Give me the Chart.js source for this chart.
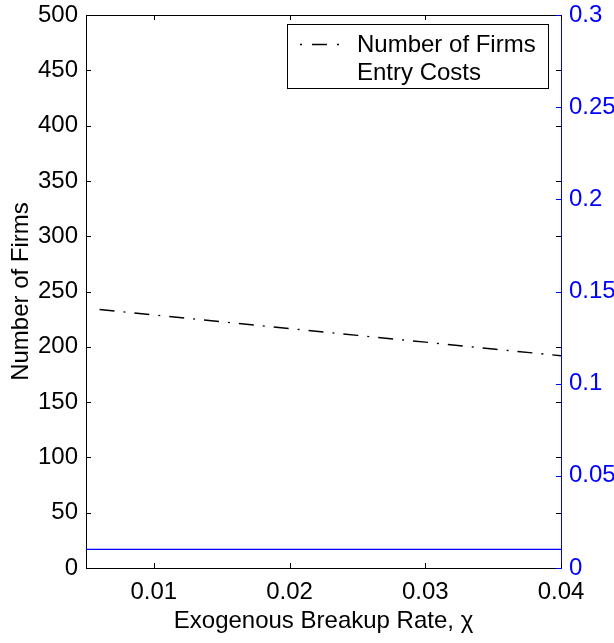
<!DOCTYPE html>
<html>
<head>
<meta charset="utf-8">
<script src="https://cdn.jsdelivr.net/npm/chart.js@4.4.0/dist/chart.umd.min.js"></script>
<style>
  html, body { margin: 0; padding: 0; background: #fff; }
</style>
</head>
<body>
<canvas id="myChart" width="614" height="643"></canvas>
<script>
// data
var chiFirms = [0.006, 0.01, 0.015, 0.02, 0.025, 0.03, 0.035, 0.04];
var numFirms = [233.7, 228.8, 222.6, 216.5, 210.3, 204.2, 198.0, 191.9];
var chiCosts = [0.005, 0.01, 0.02, 0.03, 0.04];
var entryCosts = [0.0101, 0.0101, 0.0101, 0.0101, 0.0101];

var xTicks = [0.01, 0.02, 0.03, 0.04];
var yTicks = [0, 50, 100, 150, 200, 250, 300, 350, 400, 450, 500];
var y2Ticks = [0, 0.05, 0.1, 0.15, 0.2, 0.25, 0.3];

var FONT = 'Liberation Sans, Arial, Helvetica, sans-serif';
Chart.defaults.font.family = FONT;
Chart.defaults.font.size = 24;
Chart.defaults.color = '#000';

function pairs(xs, ys) {
    return xs.map(function(x, i) { return {x: x, y: ys[i]}; });
}

// MATLAB style box, inward ticks and legend
const matlabBox = {
    id: 'matlabBox',
    afterDraw(chart) {
        const ctx = chart.ctx;
        const ca = chart.chartArea;
        const x = chart.scales.x, y = chart.scales.y, y2 = chart.scales.y2;
        ctx.save();
        ctx.lineWidth = 1;
        function seg(x1, y1, x2, y2_) {
            ctx.beginPath(); ctx.moveTo(x1, y1); ctx.lineTo(x2, y2_); ctx.stroke();
        }
        ctx.strokeStyle = '#000';
        seg(ca.left, Math.round(ca.top) + 0.5, ca.right, Math.round(ca.top) + 0.5);
        x.ticks.forEach(function(t) {
            const px = Math.round(x.getPixelForValue(t.value)) + 0.5;
            seg(px, ca.bottom, px, ca.bottom - 5);
            seg(px, ca.top, px, ca.top + 5);
        });
        y.ticks.forEach(function(t) {
            const py = Math.round(y.getPixelForValue(t.value)) + 0.5;
            seg(ca.left, py, ca.left + 5, py);
            seg(ca.right - 5, py, ca.right, py);
        });
        ctx.strokeStyle = '#0000ff';
        y2.ticks.forEach(function(t) {
            const py = Math.round(y2.getPixelForValue(t.value)) + 0.5;
            seg(ca.right - 5, py, ca.right, py);
        });

        // legend
        const lx = 287.5, ly = 24.5, lw = 261, lh = 64;
        ctx.fillStyle = '#fff';
        ctx.fillRect(lx, ly, lw, lh);
        ctx.strokeStyle = '#000';
        ctx.strokeRect(lx, ly, lw, lh);
        const ds = chart.data.datasets;
        ctx.font = '24px ' + FONT;
        ctx.fillStyle = '#000';
        ctx.textBaseline = 'alphabetic';
        ctx.textAlign = 'left';
        // sample for first series only (second has none in the figure)
        ctx.strokeStyle = ds[0].borderColor;
        ctx.lineWidth = ds[0].borderWidth;
        ctx.setLineDash([2, 10, 15, 10]);
        seg(300, 44.5, 340, 44.5);
        ctx.setLineDash([]);
        ctx.fillText(ds[0].label, 357, 52);
        ctx.fillText(ds[1].label, 357, 80);
        ctx.restore();
    }
};

function fixY(width) {
    return function(s) {
        s.width = width;
        s.paddingTop = 0;
        s.paddingBottom = 0;
    };
}

const ctx = document.getElementById('myChart').getContext('2d');
const myChart = new Chart(ctx, {
    type: 'line',
    data: {
        datasets: [
            {
                label: 'Number of Firms',
                data: pairs(chiFirms, numFirms),
                yAxisID: 'y',
                borderColor: '#000',
                borderWidth: 1.4,
                borderDash: [15, 9, 2, 9],
                pointRadius: 0,
                tension: 0,
                fill: false
            },
            {
                label: 'Entry Costs',
                data: pairs(chiCosts, entryCosts),
                yAxisID: 'y2',
                borderColor: '#0000ff',
                borderWidth: 1.3,
                pointRadius: 0,
                tension: 0,
                fill: false
            }
        ]
    },
    options: {
        responsive: false,
        animation: false,
        layout: { padding: { top: 15, left: 0, right: 0, bottom: 0 } },
        plugins: {
            legend: { display: false },
            tooltip: { enabled: false }
        },
        scales: {
            x: {
                type: 'linear',
                position: 'bottom',
                min: 0.005,
                max: 0.04,
                afterBuildTicks: function(s) { s.ticks = xTicks.map(function(v) { return {value: v}; }); },
                afterFit: function(s) { s.height = 75; s.paddingLeft = 0; s.paddingRight = 0; },
                grid: { display: false, drawTicks: false },
                border: { display: true, color: '#000', width: 1 },
                ticks: {
                    padding: 10,
                    maxRotation: 0,
                    autoSkip: false,
                    callback: function(v) { return String(v); }
                },
                title: {
                    display: true,
                    text: 'Exogenous Breakup Rate, χ',
                    padding: { top: 0, bottom: 7 }
                }
            },
            y: {
                type: 'linear',
                position: 'left',
                min: 0,
                max: 500,
                afterBuildTicks: function(s) { s.ticks = yTicks.map(function(v) { return {value: v}; }); },
                afterFit: fixY(86),
                grid: { display: false, drawTicks: false },
                border: { display: true, color: '#000', width: 1 },
                ticks: { padding: 8, autoSkip: false, callback: function(v) { return String(v); } },
                title: {
                    display: true,
                    text: 'Number of Firms',
                    padding: { top: 7, bottom: 0 }
                }
            },
            y2: {
                type: 'linear',
                position: 'right',
                min: 0,
                max: 0.3,
                afterBuildTicks: function(s) { s.ticks = y2Ticks.map(function(v) { return {value: v}; }); },
                afterFit: fixY(53),
                grid: { display: false, drawTicks: false },
                border: { display: true, color: '#0000ff', width: 1 },
                ticks: { padding: 8, color: '#0000ff', autoSkip: false, callback: function(v) { return String(v); } }
            }
        }
    },
    plugins: [matlabBox]
});
</script>
</body>
</html>
